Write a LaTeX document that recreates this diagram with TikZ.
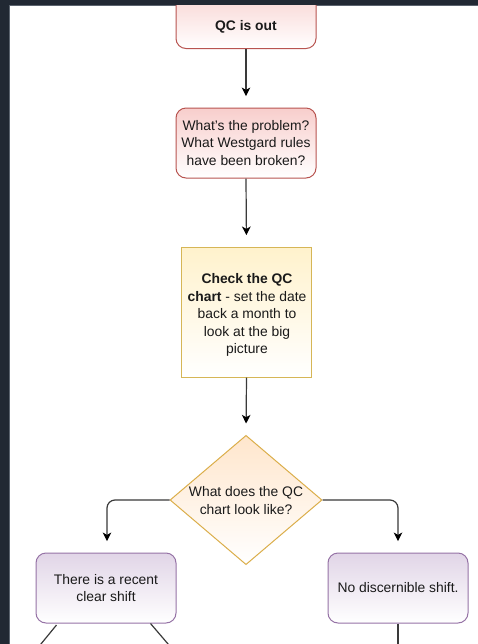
\documentclass[tikz,border=0pt]{standalone}
\usepackage{fontspec}
\setmainfont{Liberation Sans}
\usetikzlibrary{shapes.geometric,arrows.meta,calc}
\definecolor{darkbg}{HTML}{212833}
\definecolor{edgegray}{HTML}{5B636E}
\definecolor{txt}{HTML}{1A1A1A}
\definecolor{pinkF}{HTML}{F8CECC}
\definecolor{pinkS}{HTML}{B85450}
\definecolor{yelF}{HTML}{FFF2CC}
\definecolor{yelS}{HTML}{D6B656}
\definecolor{orF}{HTML}{FFE6CC}
\definecolor{orS}{HTML}{DBAE4A}
\definecolor{purF}{HTML}{E1D5E7}
\definecolor{purS}{HTML}{9673A6}
\definecolor{lineC}{HTML}{3A3A3A}
\begin{document}
\begin{tikzpicture}[x=0.75pt,y=-0.75pt,
  base/.style={line width=0.75pt, inner sep=0pt, text=txt, align=center,
    font=\fontsize{10.4}{13.1}\selectfont},
  txtonly/.style={inner sep=0pt, text=txt, align=center,
    font=\fontsize{10.4}{13.1}\selectfont},
  pinkbox/.style={base, draw=pinkS, rounded corners=7.5pt, top color=pinkF, bottom color=white,
    minimum width=105pt, minimum height=52.5pt},
  yelbox/.style={base, draw=yelS, top color=yelF, bottom color=white,
    minimum width=97pt, minimum height=97.5pt},
  dmd/.style={base, draw=orS, shape=diamond, top color=orF, bottom color=white,
    minimum width=114pt, minimum height=97pt},
  purbox/.style={base, draw=purS, rounded corners=7.5pt, top color=purF, bottom color=white,
    minimum width=105pt, minimum height=52.5pt},
  conn/.style={draw=lineC, line width=0.9pt, rounded corners=6pt,
    -{Stealth[length=6.5pt,width=6.5pt,inset=1.8pt,color=black]}, shorten >=8.5pt},
  plain/.style={draw=lineC, line width=0.9pt}
]
\useasboundingbox (0,0) rectangle (478,644);
\fill[darkbg] (0,0) rectangle (478,644);
\fill[white] (9,5) rectangle (478,644);
\draw[edgegray, line width=0.5pt] (9,644) -- (9,5) -- (478,5);
\begin{scope}
\clip (9.4,5.4) rectangle (478,644);
% nodes
\node[pinkbox, minimum height=48pt, anchor=south] (qc) at (246,49) {};
\node[txtonly] (qctxt) at (246,27) {\textbf{QC is out}};
\node[pinkbox] (prob) at (246,143) {What's the problem?\\What Westgard rules\\have been broken?};
\node[yelbox] (check) at (246.5,312) {};
\node[txtonly] (checktxt) at (247,315)
  {\textbf{Check the QC}\\\textbf{chart} - set the date\\back a month to\\look at the big\\picture};
\node[dmd] (dq) at (246,500) {};
\node[txtonly, font=\fontsize{10.4}{13.3}\selectfont] (dqtxt) at (246,500.5) {What does the QC\\chart look like?};
\node[purbox] (shift) at (106,588) {There is a recent\\clear shift};
\node[purbox] (noshift) at (398,588) {No discernible shift.};
% connectors
\draw[conn] (qc.south) -- (prob.north);
\draw[conn] (prob.south) -- (check.north);
\draw[conn] (check.south) -- (dq.north);
\draw[conn] (dq.west) -| ([xshift=0.75pt]shift.north);
\draw[conn] (dq.east) -| (noshift.north);
% cut-off connectors leaving the bottom
\coordinate (l1) at (25.4,663);
\coordinate (l2) at (184.3,663);
\coordinate (l3) at (398,664);
\draw[plain] ($(shift.south west)+(21,1.5)$) -- (l1);
\draw[plain] ($(shift.south east)+(-26,0)$) -- (l2);
\draw[plain] (noshift.south) -- (l3);
\end{scope}
\end{tikzpicture}
\end{document}
